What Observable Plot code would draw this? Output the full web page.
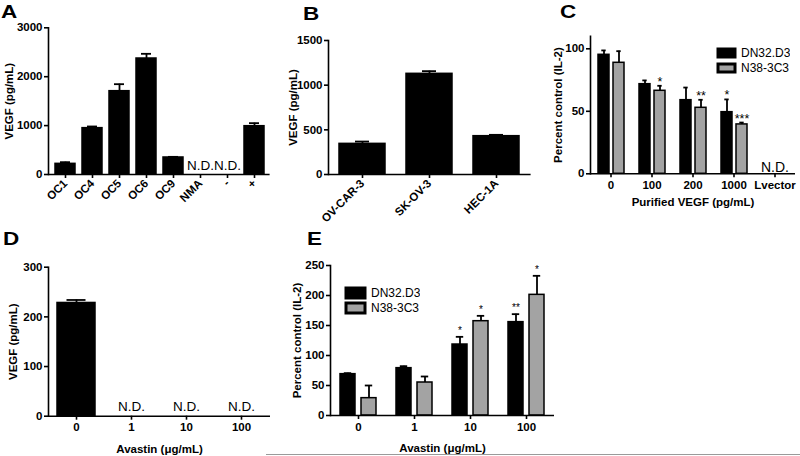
<!DOCTYPE html>
<html>
<head>
<meta charset="utf-8">
<script src="https://cdn.jsdelivr.net/npm/d3@7"></script>
<script src="https://cdn.jsdelivr.net/npm/@observablehq/plot@0.6"></script>
<style>
  body { margin: 0; background: #fff; }
  #fig { position: relative; width: 800px; height: 456px; overflow: hidden; background: #fff;
         font-family: 'Liberation Sans', Arial, sans-serif; color: #000; }
  .panel { position: absolute; }
  .letter { position: absolute; font-weight: bold; font-size: 18px; line-height: 1;
            transform: scaleX(1.25); transform-origin: left top; }
  .leg { position: absolute; }
  .leg .plot-swatches { font-family: 'Liberation Sans', Arial, sans-serif !important; font-size: 12px !important;
                        margin: 0 !important; color: #000; }
  .leg svg rect { stroke: #000; stroke-width: 3px; }
  #legC .plot-swatch { line-height: 15px; }
  #legE .plot-swatch { line-height: 13.5px; }
  .edge { position: absolute; left: 266px; top: 454px; width: 534px; height: 0; border-top: 1.5px solid #9a9a9a; }
</style>
</head>
<body>
<div id="fig">
  <div class="letter" style="left:1px;top:3px">A</div>
  <div class="letter" style="left:303px;top:5px">B</div>
  <div class="letter" style="left:560px;top:3px">C</div>
  <div class="letter" style="left:3px;top:230px">D</div>
  <div class="letter" style="left:307px;top:230px">E</div>
  <div class="panel" id="pA" style="left:0px;top:20px;width:275px"></div>
  <div class="panel" id="pB" style="left:280px;top:20px;width:260px"></div>
  <div class="panel" id="pC" style="left:540px;top:20px;width:260px"></div>
  <div class="panel" id="pD" style="left:0px;top:250px;width:275px"></div>
  <div class="panel" id="pE" style="left:280px;top:250px;width:280px"></div>
  <div class="leg" id="legC" style="left:718px;top:46px"></div>
  <div class="leg" id="legE" style="left:346px;top:286px"></div>
  <div class="edge"></div>
</div>
<script>
// ---------- Panel A ----------
const aCategories = ["OC1", "OC4", "OC5", "OC6", "OC9", "NMA", "-", "+"];
const aValues     = [218, 948, 1704, 2372, 348, null, null, 988];
const aSEM        = [34, 34, 143, 96, 13, null, null, 62];
const aNotes      = [null, null, null, null, null, "N.D.", "N.D.", null];
const aTicks      = [0, 1000, 2000, 3000];

// ---------- Panel B ----------
const bCategories = ["OV-CAR-3", "SK-OV-3", "HEC-1A"];
const bValues     = [343, 1127, 429];
const bSEM        = [26, 30, 15];
const bTicks      = [0, 500, 1000, 1500];

// ---------- Panel C ----------
const cGroups     = ["0", "100", "200", "1000", "Lvector"];
const series      = ["DN32.D3", "N38-3C3"];
const cDN32       = [95.2, 71.7, 58.9, 49.3, null];
const cDN32SEM    = [3.5, 3.0, 10.1, 10.2, null];
const cDN32Stars  = ["", "", "", "*", ""];
const cN38        = [88.8, 66.4, 52.8, 39.5, null];
const cN38SEM     = [9.3, 4.0, 6.4, 1.5, null];
const cN38Stars   = ["", "*", "**", "***", ""];
const cNotes      = [null, null, null, null, "N.D."];
const cTicks      = [0, 50, 100];

// ---------- Panel D ----------
const dGroups     = ["0", "1", "10", "100"];
const dValues     = [228, null, null, null];
const dSEM        = [6, null, null, null];
const dNotes      = [null, "N.D.", "N.D.", "N.D."];
const dTicks      = [0, 100, 200, 300];

// ---------- Panel E ----------
const eGroups     = ["0", "1", "10", "100"];
const eDN32       = [68.9, 78.9, 118.3, 155.6];
const eDN32SEM    = [1.7, 3.3, 12.8, 13.3];
const eDN32Stars  = ["", "", "*", "**"];
const eN38        = [28.9, 55.0, 157.2, 201.1];
const eN38SEM     = [21.1, 10.0, 8.9, 31.7];
const eN38Stars   = ["", "", "*", "*"];
const eTicks      = [0, 50, 100, 150, 200, 250];

const FONT = "'Liberation Sans', Arial, sans-serif";
const BLACK = "#000000";
const GRAY = "#a3a3a3";
const baseStyle = {fontFamily: FONT, fontSize: "11.5px", fontWeight: "bold", color: "#000",
                   background: "transparent", overflow: "visible", strokeWidth: "1.6px"};
const plainNumber = d => String(d);

function simpleRows(cats, vals, sems, notes) {
  return cats.map((c, i) => ({cat: c, value: vals[i], sem: sems[i], note: notes ? notes[i] : null}));
}

function groupedRows(groups, s1, s1sem, s1stars, s2, s2sem, s2stars, notes) {
  const rows = [];
  groups.forEach((g, i) => {
    if (s1[i] != null) rows.push({group: g, series: series[0], value: s1[i], sem: s1sem[i], star: s1stars[i]});
    if (s2[i] != null) rows.push({group: g, series: series[1], value: s2[i], sem: s2sem[i], star: s2stars[i]});
    if (notes && notes[i]) rows.push({group: g, series: null, value: null, sem: null, star: "", note: notes[i]});
  });
  return rows;
}

function yScale(o) {
  return {domain: o.yDomain, ticks: o.yTicks, tickFormat: plainNumber, tickSize: 4, tickPadding: 2, line: true,
          label: o.yLabel, labelAnchor: "center", labelOffset: o.yLabelOffset, labelArrow: "none"};
}

function simplePanel(o) {
  const has = d => d.value != null;
  return Plot.plot({
    width: o.width, height: o.height,
    marginLeft: o.ml, marginRight: o.mr, marginTop: o.mt, marginBottom: o.mb,
    style: baseStyle,
    x: {domain: o.domain, paddingInner: o.pad, paddingOuter: o.pad / 2, tickSize: 4, tickPadding: 3,
        tickRotate: o.rotate || 0, label: o.xLabel || null, labelAnchor: "center", labelOffset: o.xLabelOffset,
        labelArrow: "none"},
    y: yScale(o),
    marks: [
      Plot.barY(o.rows, {filter: has, x: "cat", y: "value", fill: BLACK, stroke: BLACK, strokeWidth: 1.5}),
      Plot.ruleX(o.rows, {filter: has, x: "cat", y1: "value", y2: d => d.value + d.sem, strokeWidth: 1.8}),
      Plot.tickY(o.rows, {filter: has, x: "cat", y: d => d.value + d.sem, insetLeft: o.cap, insetRight: o.cap, strokeWidth: 1.8}),
      Plot.text(o.rows, {filter: d => d.note, x: "cat", y: 0, text: "note", lineAnchor: "bottom", dy: o.ndDy,
                         fontSize: o.ndSize, fontWeight: "normal", fill: BLACK}),
      Plot.ruleY([0], {strokeWidth: 1.6})
    ]
  });
}

function groupedPanel(o) {
  const has = d => d.value != null;
  return Plot.plot({
    width: o.width, height: o.height,
    marginLeft: o.ml, marginRight: o.mr, marginTop: o.mt, marginBottom: o.mb,
    style: baseStyle,
    facet: {data: o.rows, x: "group"},
    fx: {domain: o.groups, padding: 0, axis: "bottom", tickSize: 4, tickPadding: 3,
         label: o.xLabel, labelAnchor: "center", labelOffset: o.xLabelOffset, labelArrow: "none"},
    x: {domain: series, paddingInner: 0.28, paddingOuter: 0.45, axis: null},
    y: yScale(o),
    color: {domain: series, range: [BLACK, GRAY]},
    marks: [
      Plot.barY(o.rows, {filter: has, x: "series", y: "value", fill: "series", stroke: BLACK, strokeWidth: 1.5}),
      Plot.ruleX(o.rows, {filter: has, x: "series", y1: "value", y2: d => d.value + d.sem, strokeWidth: 1.8}),
      Plot.tickY(o.rows, {filter: has, x: "series", y: d => d.value + d.sem, insetLeft: o.cap, insetRight: o.cap, strokeWidth: 1.8}),
      Plot.text(o.rows, {filter: d => d.star, x: "series", y: d => d.value + d.sem, text: "star", lineAnchor: "bottom",
                         dy: o.starDy, fontSize: o.starSize, fontWeight: "normal", fill: BLACK}),
      Plot.text(o.rows, {filter: d => d.note, y: 0, text: "note", lineAnchor: "bottom", dy: o.ndDy,
                         fontSize: o.ndSize, fontWeight: "normal", fill: BLACK}),
      Plot.ruleY([0], {strokeWidth: 1.6})
    ]
  });
}

document.getElementById("pA").append(simplePanel({
  rows: simpleRows(aCategories, aValues, aSEM, aNotes), domain: aCategories,
  width: 275, height: 205, ml: 48, mr: 5.4, mt: 7.3, mb: 51, pad: 0.275, rotate: -45,
  yDomain: [0, 3000], yTicks: aTicks, yLabel: "VEGF (pg/mL)", yLabelOffset: 44,
  cap: 5, ndDy: -5, ndSize: 13.5
}));

document.getElementById("pB").append(simplePanel({
  rows: simpleRows(bCategories, bValues, bSEM, null), domain: bCategories,
  width: 260, height: 205, ml: 48, mr: 9.4, mt: 20, mb: 51, pad: 0.317, rotate: -45,
  yDomain: [0, 1500], yTicks: bTicks, yLabel: "VEGF (pg/mL)", yLabelOffset: 40,
  cap: 16, ndDy: -5, ndSize: 13.5
}));

document.getElementById("pC").append(groupedPanel({
  rows: groupedRows(cGroups, cDN32, cDN32SEM, cDN32Stars, cN38, cN38SEM, cN38Stars, cNotes), groups: cGroups,
  width: 260, height: 205, ml: 48, mr: 3.5, mt: 15.8, mb: 51.7,
  xLabel: "Purified VEGF (pg/mL)", xLabelOffset: 32,
  yDomain: [0, 110], yTicks: cTicks, yLabel: "Percent control (IL-2)", yLabelOffset: 37,
  cap: 3.3, starDy: 0, starSize: 12.5, ndDy: -1.5, ndSize: 14
}));

document.getElementById("pD").append(simplePanel({
  rows: simpleRows(dGroups, dValues, dSEM, dNotes), domain: dGroups,
  width: 275, height: 206, ml: 48, mr: 5, mt: 16.7, mb: 40.3, pad: 0.303, rotate: 0,
  xLabel: "Avastin (\u03bcg/mL)", xLabelOffset: 37,
  yDomain: [0, 300], yTicks: dTicks, yLabel: "VEGF (pg/mL)", yLabelOffset: 40,
  cap: 9.5, ndDy: -5, ndSize: 13.5
}));

document.getElementById("pE").append(groupedPanel({
  rows: groupedRows(eGroups, eDN32, eDN32SEM, eDN32Stars, eN38, eN38SEM, eN38Stars, null), groups: eGroups,
  width: 280, height: 206, ml: 48, mr: 5, mt: 15, mb: 41,
  xLabel: "Avastin (\u03bcg/mL)", xLabelOffset: 36,
  yDomain: [0, 250], yTicks: eTicks, yLabel: "Percent control (IL-2)", yLabelOffset: 38,
  cap: 3.8, starDy: -3, starSize: 10, ndDy: -3, ndSize: 13
}));

function legend(id, w, h) {
  document.getElementById(id).append(Plot.legend({
    color: {domain: series, range: [BLACK, GRAY]}, legend: "swatches", columns: 1,
    swatchWidth: w, swatchHeight: h,
    style: {fontFamily: FONT, fontSize: "12px", color: "#000"}
  }));
}
legend("legC", 17, 8);
legend("legE", 19, 10);
</script>
</body>
</html>
